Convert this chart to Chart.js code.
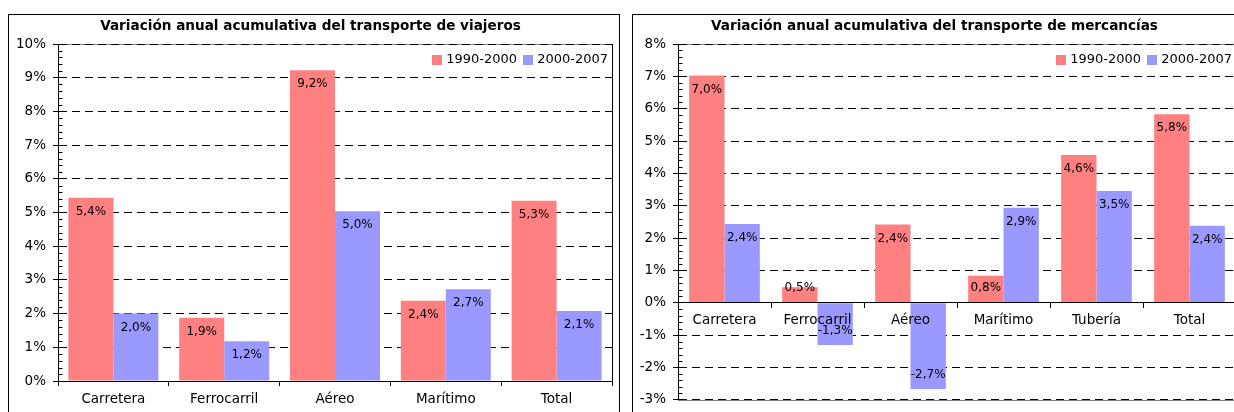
<!DOCTYPE html>
<html><head><meta charset="utf-8">
<script src="https://cdn.jsdelivr.net/npm/chart.js@4/dist/chart.umd.min.js"></script>
<style>
html,body{margin:0;padding:0;background:#fff;width:1234px;height:412px;overflow:hidden;}
.panel{position:absolute;top:14px;width:610px;height:420px;border:1px solid #000;background:#fff;}
#p1{left:8px;} #p2{left:632px;}
.panel canvas{position:absolute;left:0;top:0;}
</style></head><body>
<div class="panel" id="p1"><canvas id="c1" width="610" height="400"></canvas></div>
<div class="panel" id="p2"><canvas id="c2" width="610" height="400"></canvas></div>
<script>
// ---- data ----
const seriesLabels = ['1990-2000', '2000-2007'];
const seriesColors = ['#FF8080', '#9999FF'];

const viajerosTitle = 'Variación anual acumulativa del transporte de viajeros';
const viajerosCategories = ['Carretera', 'Ferrocarril', 'Aéreo', 'Marítimo', 'Total'];
const viajeros1990_2000 = [5.44, 1.88, 9.22, 2.38, 5.35];
const viajeros2000_2007 = [2.00, 1.18, 5.04, 2.72, 2.08];
const viajerosYRange = [0, 10];

const mercanciasTitle = 'Variación anual acumulativa del transporte de mercancías';
const mercanciasCategories = ['Carretera', 'Ferrocarril', 'Aéreo', 'Marítimo', 'Tubería', 'Total'];
const mercancias1990_2000 = [7.03, 0.48, 2.42, 0.84, 4.57, 5.83];
const mercancias2000_2007 = [2.44, -1.30, -2.66, 2.94, 3.46, 2.38];
const mercanciasYRange = [-3, 8];

const FONT = '"DejaVu Sans", Verdana, sans-serif';

// ---- plugins ----
const framePlugin = {
  id: 'frame',
  beforeDraw(chart) {
    const {ctx, chartArea: a} = chart;
    ctx.save();
    ctx.lineWidth = 1;
    ctx.strokeStyle = '#808080';
    ctx.beginPath();
    ctx.moveTo(a.left, Math.round(a.top) + 0.5); ctx.lineTo(a.right, Math.round(a.top) + 0.5);
    ctx.moveTo(a.left, Math.round(a.bottom) + 0.5); ctx.lineTo(a.right, Math.round(a.bottom) + 0.5);
    ctx.stroke();
    ctx.strokeStyle = '#000';
    ctx.beginPath();
    ctx.moveTo(Math.round(a.right) + 0.5, a.top); ctx.lineTo(Math.round(a.right) + 0.5, a.bottom);
    ctx.stroke();
    ctx.restore();
  }
};

const minorTicksPlugin = {
  id: 'minorTicks',
  afterDatasetsDraw(chart) {
    const {ctx, chartArea: a} = chart;
    const y = chart.scales.y;
    ctx.save();
    ctx.strokeStyle = '#000';
    ctx.lineWidth = 1;
    ctx.beginPath();
    const x0 = Math.round(a.left) + 0.5;
    for (let k = Math.round(y.min * 5); k <= Math.round(y.max * 5); k++) {
      if (k % 5 === 0) continue;
      const py = Math.round(y.getPixelForValue(k / 5)) + 0.5;
      ctx.moveTo(x0, py); ctx.lineTo(x0 + 4, py);
    }
    ctx.stroke();
    ctx.restore();
  }
};

const fmt = v => v.toFixed(1).replace('.', ',') + '%';

const valueLabelsPlugin = {
  id: 'valueLabels',
  afterDatasetsDraw(chart) {
    const {ctx} = chart;
    ctx.save();
    ctx.font = '12px ' + FONT;
    ctx.fillStyle = '#000';
    ctx.textAlign = 'center';
    ctx.textBaseline = 'middle';
    chart.data.datasets.forEach((ds, di) => {
      const meta = chart.getDatasetMeta(di);
      meta.data.forEach((bar, i) => {
        const v = ds.data[i];
        let ty;
        if (v >= 0) ty = Math.min(bar.y + 14, bar.base - 14);
        else ty = Math.max(bar.y - 14, bar.base + 14);
        ctx.fillText(fmt(v), bar.x, ty);
      });
    });
    ctx.restore();
  }
};

const cornerLegendPlugin = {
  id: 'cornerLegend',
  afterDraw(chart) {
    const {ctx, chartArea: a} = chart;
    ctx.save();
    ctx.font = '13px ' + FONT;
    ctx.textBaseline = 'middle';
    ctx.textAlign = 'left';
    let x = a.right - 4;
    const y = a.top + 16;
    const ds = chart.data.datasets;
    for (let i = ds.length - 1; i >= 0; i--) {
      const w = ctx.measureText(ds[i].label).width;
      x -= w;
      ctx.fillStyle = '#000';
      ctx.fillText(ds[i].label, x, y);
      x -= 4 + 10;
      ctx.fillStyle = ds[i].backgroundColor;
      ctx.fillRect(Math.round(x), Math.round(y - 5), 10, 10);
      x -= 6;
    }
    ctx.restore();
  }
};

function makeChart(canvasId, title, categories, s1, s2, yRange, opts) {
  const xScale = {
    grid: {drawOnChartArea: false, drawTicks: true, tickLength: 5, color: '#000', offset: true, z: 1},
    border: {display: true, color: '#000', width: 1, z: 1},
    ticks: {font: {family: FONT, size: 13.5}, color: '#000', padding: opts.xPad, autoSkip: false, maxRotation: 0, z: 2}
  };
  if (opts.xAtZero) {
    xScale.position = {y: 0};
  } else {
    xScale.position = 'bottom';
    xScale.afterFit = s => { s.height = 34; };
  }
  return new Chart(document.getElementById(canvasId), {
    type: 'bar',
    data: {
      labels: categories,
      datasets: [
        {label: seriesLabels[0], data: s1, backgroundColor: seriesColors[0], borderWidth: 0},
        {label: seriesLabels[1], data: s2, backgroundColor: seriesColors[1], borderWidth: 0}
      ]
    },
    options: {
      responsive: false,
      animation: false,
      devicePixelRatio: 1,
      layout: {padding: {left: 0, right: 7, top: 0, bottom: opts.padBottom}},
      datasets: {bar: {categoryPercentage: opts.catPct, barPercentage: 1}},
      plugins: {
        legend: {display: false},
        tooltip: {enabled: false},
        title: {
          display: true, text: title, color: '#000',
          font: {family: FONT, size: 13.6, weight: 'bold'},
          padding: {top: 3, bottom: 9.7}
        }
      },
      scales: {
        x: xScale,
        y: {
          min: yRange[0], max: yRange[1],
          ticks: {stepSize: 1, callback: v => v + '%', font: {family: FONT, size: 13.5}, color: '#000', padding: 7},
          grid: {color: '#000', lineWidth: 1, drawTicks: true, tickLength: 5, tickColor: '#000', tickBorderDash: []},
          border: {display: true, color: '#000', width: 1, dash: [8, 5]},
          afterFit: s => { s.width = opts.yWidth; }
        }
      }
    },
    plugins: [framePlugin, minorTicksPlugin, valueLabelsPlugin, cornerLegendPlugin]
  });
}

makeChart('c1', viajerosTitle, viajerosCategories, viajeros1990_2000, viajeros2000_2007, viajerosYRange,
  {xAtZero: false, padBottom: 0, catPct: 0.812, yWidth: 49, xPad: 5});
makeChart('c2', mercanciasTitle, mercanciasCategories, mercancias1990_2000, mercancias2000_2007, mercanciasYRange,
  {xAtZero: true, padBottom: 15, catPct: 0.76, yWidth: 45, xPad: 5});
</script>
</body></html>
